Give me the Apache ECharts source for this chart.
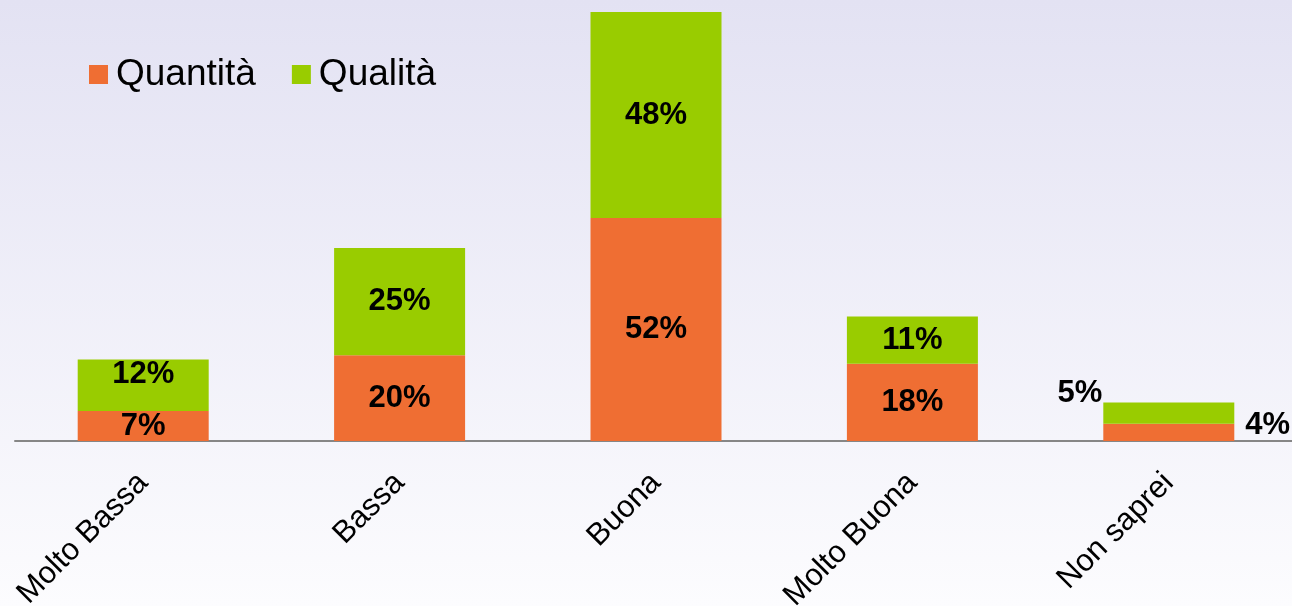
<!DOCTYPE html>
<html>
<head>
<meta charset="utf-8">
<script src="https://cdn.jsdelivr.net/npm/echarts@6/dist/echarts.min.js"></script>
<style>
  html, body { margin: 0; padding: 0; }
  #chart { width: 1292px; height: 606px; }
</style>
</head>
<body>
<div id="chart"></div>
<script>
var categories = ['Molto Bassa', 'Bassa', 'Buona', 'Molto Buona', 'Non saprei']
var quantita = [7, 20, 52, 18, 4]
var qualita = [12, 25, 48, 11, 5]

var myChart = echarts.init(document.getElementById('chart'))

var last = categories.length - 1

// l'ultima colonna ha le etichette fuori dalla barra
var quantitaData = quantita.map(function (v, i) {
  if (i === last) {
    return { value: v, label: { position: [142, 2], align: 'left', verticalAlign: 'middle' } }
  }
  return v
})
var qualitaData = qualita.map(function (v, i) {
  if (i === last) {
    return { value: v, label: { position: [-1, -9], align: 'right', verticalAlign: 'middle' } }
  }
  if (i === 0) {
    return { value: v, label: { offset: [0, -11] } }
  }
  return v
})

var labelStyle = {
  show: true,
  position: 'inside',
  formatter: '{c}%',
  color: '#000',
  fontSize: 31,
  fontWeight: 'bold',
  fontFamily: 'Liberation Sans'
}

var option = {
  backgroundColor: new echarts.graphic.LinearGradient(0, 0, 0, 1, [
    { offset: 0, color: '#e3e2f3' },
    { offset: 1, color: '#fcfcfe' }
  ]),
  legend: {
    left: 84,
    top: 51,
    itemWidth: 19,
    itemHeight: 19,
    itemGap: 36,
    icon: 'rect',
    textStyle: {
      fontSize: 37,
      color: '#000',
      fontFamily: 'Liberation Sans',
      padding: [0, 0, 0, 3]
    }
  },
  grid: {
    top: 12,
    left: 15,
    right: -5,
    bottom: 165,
    outerBoundsMode: 'none'
  },
  xAxis: {
    type: 'category',
    data: categories,
    axisLine: {
      lineStyle: { color: '#868686', width: 2 }
    },
    axisTick: { show: false },
    axisLabel: {
      rotate: 45,
      margin: 37,
      interval: 0,
      fontSize: 31,
      color: '#000',
      fontFamily: 'Liberation Sans'
    }
  },
  yAxis: {
    type: 'value',
    min: 0,
    max: 100,
    show: false,
    splitLine: { show: false }
  },
  series: [
    {
      name: 'Quantità',
      type: 'bar',
      stack: 'tot',
      barWidth: 131,
      itemStyle: { color: '#ef6e33' },
      label: labelStyle,
      data: quantitaData
    },
    {
      name: 'Qualità',
      type: 'bar',
      stack: 'tot',
      barWidth: 131,
      itemStyle: { color: '#99cc00' },
      label: labelStyle,
      data: qualitaData
    }
  ]
}

myChart.setOption(option)
</script>
</body>
</html>
